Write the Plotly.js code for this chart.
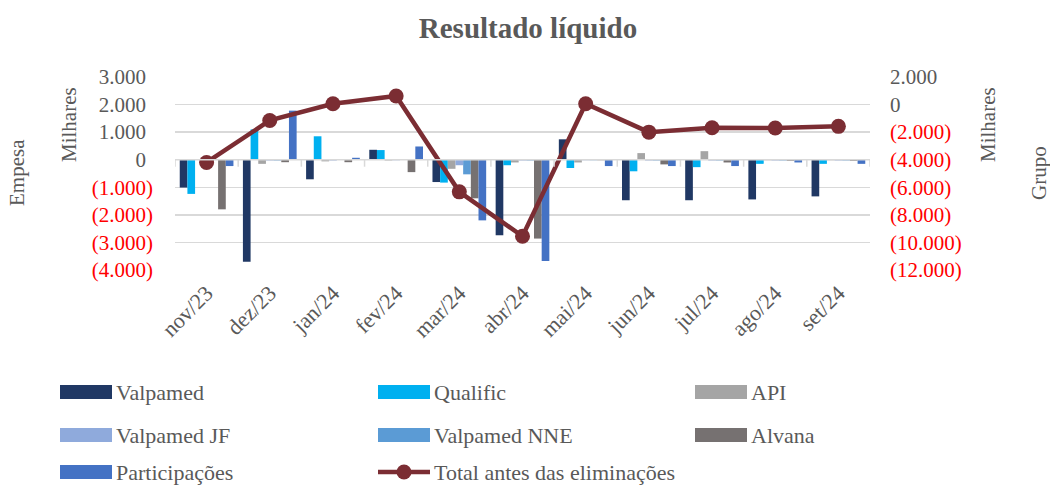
<!DOCTYPE html>
<html>
<head>
<meta charset="utf-8">
<script src="https://cdn.plot.ly/plotly-3.0.1.min.js"></script>
<style>html,body{margin:0;padding:0;background:#fff;}</style>
</head>
<body>
<div id="chart" style="width:1050px;height:487px;"></div>
<script>
// ---- data ----
const categories = ['nov/23','dez/23','jan/24','fev/24','mar/24','abr/24','mai/24','jun/24','jul/24','ago/24','set/24'];
const valpamed      = [-1010, -3700, -710,  360,  -810, -2740,  740, -1470, -1470, -1440, -1330];
const qualific      = [-1240,  1100,  850,  350,  -830,  -200, -300,  -420,  -270,  -150,  -150];
const api           = [  -10,  -150,  -60,  -30,  -330,  -100, -100,   240,   310,   -20,   -20];
const valpamedJF    = [  -10,   -30,  -30,  -20,  -200,   -30,  -20,   -30,   -30,   -30,   -30];
const valpamedNNE   = [  -10,   -30,  -10,  -10,  -530,   -30,  -20,   -30,   -30,   -30,   -30];
const alvana        = [-1800,   -90,  -90, -450, -1400, -2860,  -20,  -170,  -100,   -40,   -40];
const participacoes = [ -230,  1780,   70,  480, -2200, -3670, -230,  -230,  -230,  -100,  -150];
const totalAntes    = [-4200, -1150,   60,  620, -6330, -9550,   60, -2000, -1680, -1700, -1580];

const seriesNames = ['Valpamed','Qualific','API','Valpamed JF','Valpamed NNE','Alvana','Participações'];
const lineName = 'Total antes das eliminações';
const leftTicks  = [3000, 2000, 1000, 0, -1000, -2000, -3000, -4000];
const rightTicks = [2000, 0, -2000, -4000, -6000, -8000, -10000, -12000];

// ---- styles ----
const barColors = ['#203864','#00b0f0','#a5a5a5','#8faadc','#5b9bd5','#767171','#4472c4'];
const lineColor = '#7b2d33';
const txt = '#595959';
const FONT = 'Liberation Serif, Times New Roman, serif';

const seriesData = [valpamed, qualific, api, valpamedJF, valpamedNNE, alvana, participacoes];

function fmt(v, padRight){
  const s = Math.abs(v).toString().replace(/\B(?=(\d{3})+(?!\d))/g, '.');
  if (v < 0) return '<span style="color:#ff0000">(' + s + ')</span>';
  return padRight ? s + '<span style="color:rgba(0,0,0,0)">)</span>' : s;
}

const traces = seriesData.map((d, i) => ({
  type: 'bar', name: seriesNames[i], x: categories, y: d,
  marker: {color: barColors[i]}, yaxis: 'y', xaxis: 'x', hoverinfo: 'name+y'
}));
traces.push({
  type: 'scatter', mode: 'lines+markers', name: lineName, x: categories, y: totalAntes,
  yaxis: 'y2', xaxis: 'x',
  line: {color: lineColor, width: 4.5}, marker: {color: lineColor, size: 15}
});

// plot area in pixels
const L = 175, R = 870, T = 77, B = 270;
const xp = px => (px - L) / (R - L);
const yp = py => (B - py) / (B - T);

const shapes = [];
// category axis line at zero + boundary ticks
shapes.push({type:'line', xref:'x', yref:'y', x0:-0.5, x1:categories.length-0.5, y0:0, y1:0,
  line:{color:'#d9d9d9', width:1.5}});
for (let i = 0; i <= categories.length; i++) {
  shapes.push({type:'line', xref:'x', yref:'y', ysizemode:'pixel', yanchor:0,
    x0:i-0.5, x1:i-0.5, y0:0, y1:-7, line:{color:'#d9d9d9', width:1.5}});
}

const rot = (t, px, py) => ({text:t, textangle:-90, x:xp(px), y:yp(py), xref:'paper', yref:'paper',
  xanchor:'center', yanchor:'middle', showarrow:false, font:{family:FONT, size:21, color:txt}});
const annotations = [
  rot('Milhares', 69, 125), rot('Empesa', 17, 173),
  rot('Milhares', 988, 125), rot('Grupo', 1039, 173)
];

// custom legend (3 columns)
const colX = [60, 378, 695];
const rowY = [392, 435, 472];
const legendItems = seriesNames.map((n, i) => ({name:n, color:barColors[i], kind:'bar'}));
legendItems.push({name:lineName, color:lineColor, kind:'line'});
legendItems.forEach((it, k) => {
  const cx = colX[k % 3], cy = rowY[Math.floor(k / 3)];
  if (it.kind === 'bar') {
    shapes.push({type:'rect', xref:'paper', yref:'paper', x0:xp(cx), x1:xp(cx+52), y0:yp(cy+7), y1:yp(cy-7),
      fillcolor:it.color, line:{width:0}});
  } else {
    shapes.push({type:'line', xref:'paper', yref:'paper', x0:xp(cx), x1:xp(cx+52), y0:yp(cy), y1:yp(cy),
      line:{color:it.color, width:4.5}});
    shapes.push({type:'circle', xref:'paper', yref:'paper', x0:xp(cx+26-7.5), x1:xp(cx+26+7.5), y0:yp(cy+7.5), y1:yp(cy-7.5),
      fillcolor:it.color, line:{width:0}});
  }
  annotations.push({text:it.name, x:xp(cx+55), y:yp(cy), xref:'paper', yref:'paper', xanchor:'left', yanchor:'middle',
    borderpad:0, showarrow:false, font:{family:FONT, size:22, color:txt}});
});

const layout = {
  width: 1050, height: 487,
  margin: {l: L, r: 1050 - R, t: T, b: 487 - B, pad: 0},
  paper_bgcolor: '#ffffff', plot_bgcolor: '#ffffff',
  font: {family: FONT, size: 21, color: txt},
  title: {text: '<b>Resultado líquido</b>', x: 528/1050, xref: 'container', xanchor: 'center',
          y: 1 - 28/487, yref: 'container', yanchor: 'middle', font: {family: FONT, size: 29, color: txt}},
  showlegend: false,
  barmode: 'group', bargap: 0.15, bargroupgap: 0,
  xaxis: {type: 'category', range: [-0.5, categories.length - 0.5], showgrid: false, zeroline: false,
          showline: false, ticks: '', tickangle: -45, tickfont: {family: FONT, size: 22, color: txt},
          ticklabelstandoff: 5, fixedrange: true},
  yaxis: {range: [-4000, 3000], tickvals: leftTicks, ticktext: leftTicks.map(v => fmt(v, true)), showgrid: true,
          gridcolor: '#d9d9d9', gridwidth: 1.3, zeroline: false, showline: false, ticks: '',
          ticklabelstandoff: 21, tickfont: {family: FONT, size: 21, color: txt}},
  yaxis2: {range: [-12000, 2000], overlaying: 'y', side: 'right', tickvals: rightTicks, ticktext: rightTicks.map(v => fmt(v, false)),
           showgrid: false, zeroline: false, showline: false, ticks: '', ticklabelstandoff: 19,
           tickfont: {family: FONT, size: 21, color: txt}},
  shapes: shapes,
  annotations: annotations
};

Plotly.newPlot('chart', traces, layout, {displayModeBar: false, staticPlot: true});
</script>
</body>
</html>
